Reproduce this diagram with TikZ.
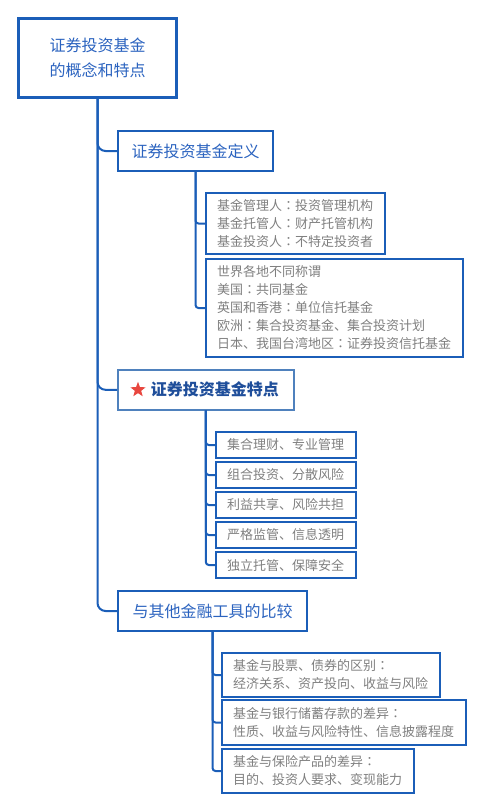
\documentclass[tikz,border=0pt]{standalone}
\usepackage{fontspec}
\setmainfont{Noto Sans CJK SC}
\newfontfamily\tcfont{Noto Sans CJK TC}
\usetikzlibrary{shapes.geometric}

\definecolor{mapblue}{HTML}{1B5EB8}
\definecolor{lightblue}{HTML}{4F81BD}
\definecolor{topicblue}{HTML}{2B63BF}
\definecolor{navyblue}{HTML}{1F4E9A}
\definecolor{notegray}{HTML}{7F7F7F}
\definecolor{starred}{HTML}{E8473F}

% centred full-width colon
\newcommand\colonmark{{\tcfont ：}}

\tikzset{
  topic/.style={draw=mapblue, line width=2pt, text=topicblue, font=\fontsize{16}{25}\selectfont, inner sep=0pt, anchor=north west},
  note/.style={draw=mapblue, line width=2pt, text=notegray, font=\fontsize{13}{18}\selectfont, align=left, inner xsep=11pt, inner ysep=0pt, anchor=north west},
  branch/.style={mapblue, line width=2pt, rounded corners=8pt},
  twig/.style={mapblue, line width=2pt, rounded corners=3pt},
}

\begin{document}
\begin{tikzpicture}[x=1pt, y=-1pt]

\useasboundingbox (0,0) rectangle (482,809);

% Root
\node[topic, line width=3pt, minimum width=158pt, minimum height=79pt, align=center] (root) at (17,17) {证券投资基金\\的概念和特点};

% Definition
\node[topic, minimum width=155pt, minimum height=40pt] (def) at (117,130) {证券投资基金定义};
\node[note, text width=157pt, minimum height=61pt] (holders) at (205,192) {基金管理人\colonmark 投资管理机构\\基金托管人\colonmark 财产托管机构\\基金投资人\colonmark 不特定投资者};
\node[note, text width=235pt, minimum height=98pt] (names) at (205,258) {世界各地不同称谓\\美国\colonmark 共同基金\\英国和香港\colonmark 单位信托基金\\欧洲\colonmark 集合投资基金、集合投资计划\\日本、我国台湾地区\colonmark 证券投资信托基金};

% Features
\node[topic, draw=lightblue, line width=1.6pt, text=navyblue, font=\fontsize{16}{25}\selectfont\bfseries, minimum width=176pt, minimum height=40pt] (feat) at (117,369) {\hspace{18pt}证券投资基金特点};
\node[star, star points=5, star point ratio=2.4, fill=starred, inner sep=0pt, minimum size=16pt] (featstar) at ([xshift=21pt]feat.west) {};

\node[note, text width=118pt, minimum height=26pt] (feat1) at (215,431) {集合理财、专业管理};
\node[note, text width=118pt, minimum height=26pt] (feat2) at (215,461) {组合投资、分散风险};
\node[note, text width=118pt, minimum height=26pt] (feat3) at (215,491) {利益共享、风险共担};
\node[note, text width=118pt, minimum height=26pt] (feat4) at (215,521) {严格监管、信息透明};
\node[note, text width=118pt, minimum height=26pt] (feat5) at (215,551) {独立托管、保障安全};

% Comparison
\node[topic, minimum width=189pt, minimum height=40pt] (cmp) at (117,590) {与其他金融工具的比较};
\node[note, text width=196pt, minimum height=44pt] (cmp1) at (221,652) {基金与股票、债券的区别\colonmark\\经济关系、资产投向、收益与风险};
\node[note, text width=222pt, minimum height=45pt] (cmp2) at (221,699) {基金与银行储蓄存款的差异\colonmark\\性质、收益与风险特性、信息披露程度};
\node[note, text width=170pt, minimum height=44pt] (cmp3) at (221,748) {基金与保险产品的差异\colonmark\\目的、投资人要求、变现能力};

% Connectors
\draw[branch] (root.south) |- (def.west);
\draw[branch] (root.south) |- (feat.west);
\draw[branch] (root.south) |- (cmp.west);

\draw[twig] (def.south) |- (holders.west);
\draw[twig] (def.south) |- (names.west);

\draw[twig] (feat.south) |- (feat1.west);
\draw[twig] (feat.south) |- (feat2.west);
\draw[twig] (feat.south) |- (feat3.west);
\draw[twig] (feat.south) |- (feat4.west);
\draw[twig] (feat.south) |- (feat5.west);

\draw[twig] (cmp.south) |- (cmp1.west);
\draw[twig] (cmp.south) |- (cmp2.west);
\draw[twig] (cmp.south) |- (cmp3.west);

\end{tikzpicture}
\end{document}
